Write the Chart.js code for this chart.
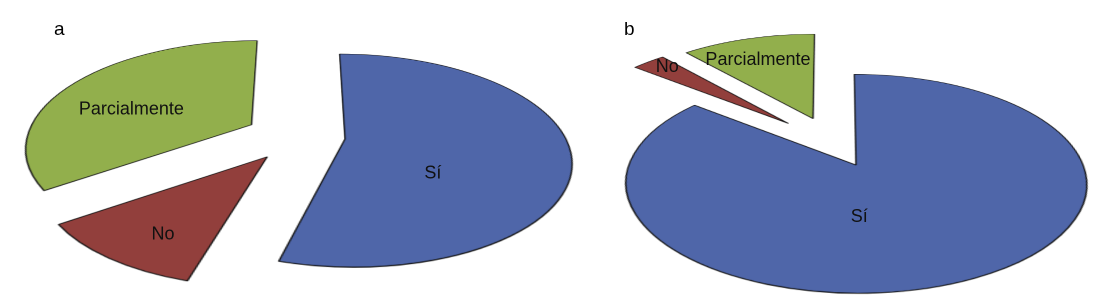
<!DOCTYPE html>
<html>
<head>
<meta charset="utf-8">
<script src="https://cdn.jsdelivr.net/npm/chart.js@4/dist/chart.umd.min.js"></script>
<style>
  html, body { margin: 0; padding: 0; background: #fff; }
  #wrap { position: relative; width: 1120px; height: 299px; overflow: hidden; }
  .panel { position: absolute; top: 0; height: 299px; }
  #panel-a { left: 0; width: 600px; }
  #panel-b { left: 560px; width: 560px; }
  .tag { position: absolute; top: 19px; font: 19px "Liberation Sans", Arial, sans-serif; line-height: 1; color: #000; }
</style>
</head>
<body>
<div id="wrap">
  <div class="panel" id="panel-a"><canvas id="chart-a"></canvas></div>
  <div class="panel" id="panel-b"><canvas id="chart-b"></canvas></div>
  <div class="tag" style="left:54px">a</div>
  <div class="tag" style="left:624px">b</div>
</div>
<script>
const categories = ['Sí', 'No', 'Parcialmente'];
const valuesA = [25, 5, 16];
const valuesB = [30, 1, 4];
const colors = ['#4f66a9', '#923f3c', '#92af4c'];
// how far each slice is pulled out, as a fraction of the radius
const explodeA = [0.21, 0.238, 0.247];
const explodeB = [0.23, 0.285, 0.264];
// where the label sits: turn from the slice middle (deg), distance from the tip (radius fraction)
const labelTurnA = [33, -4, -12];
const labelDistA = [0.48, 0.76, 0.59];
const labelTurnB = [24.5, 1.5, -2.7];
const labelDistB = [0.45, 0.88, 0.72];

const SRC_R = 110; // radius of the flat pie before it is tilted

// tilted disc seen in perspective: centre, half axes, depth factor,
// and how much of the explode distance goes into the perspective (x and y)
const viewA = { cx: 298.8, cy: 136.1, A: 220.7, B: 102, g: 0.202, liftX: 0.7, liftY: 0.2 };
const viewB = { cx: 272.9, cy: 143, A: 223.1, B: 102.6, g: 0.168, liftX: 0.5, liftY: 0.5 };

const sliceFrame = (el, view) => {
    const shift = (el.options.offset || 0) / 4;
    const mid = (el.startAngle + el.endAngle) / 2;
    const du = Math.cos(mid) * shift / SRC_R;
    const dv = Math.sin(mid) * shift / SRC_R;
    const dd = 1 - view.g * dv;
    const pu = du * view.liftX, pv = dv * view.liftY;
    return {
        mid,
        sx: el.x + Math.cos(mid) * shift, // slice tip in the flat pie
        sy: el.y + Math.sin(mid) * shift,
        vx: view.cx + view.A * du / dd,   // slice tip on screen
        vy: view.cy + view.B * dv / dd,
        pu, pv,
        d0: 1 - view.g * pv
    };
};

// point of a slice, given relative to its tip in radius units, to screen
const mapLocal = (view, f, qu, qv) => {
    const w = f.pv + qv;
    const d = 1 - view.g * w;
    return [f.vx + view.A * ((f.pu + qu) / d - f.pu / f.d0),
            f.vy + view.B * (w / d - f.pv / f.d0)];
};

const outline = (el, view, f, e) => {
    const half = (el.endAngle - el.startAngle) / 2;
    const back = Math.min(e / Math.max(Math.sin(half), 0.05), 0.1);
    const pts = [mapLocal(view, f, -Math.cos(f.mid) * back, -Math.sin(f.mid) * back)];
    const a0 = el.startAngle - e, a1 = el.endAngle + e;
    for (let k = 0; k <= 64; k++) {
        const a = a0 + (a1 - a0) * k / 64;
        pts.push(mapLocal(view, f, Math.cos(a) * (1 + e), Math.sin(a) * (1 + e)));
    }
    return pts;
};

const makeTilt = (view, labelTurn, labelDist) => ({
    id: 'tilt',
    beforeDatasetDraw(chart, args) {
        // Chart.js grows and narrows exploded slices, undo that for the drawing
        args.meta.data.forEach(el => {
            const grow = (el.options.offset || 0) / 4 * (1 - Math.sin(Math.min(Math.PI, el.circumference || 0)));
            const widen = grow / Math.PI / SRC_R / 2;
            el.$angles = [el.startAngle, el.endAngle];
            el.outerRadius = SRC_R - grow;
            el.startAngle -= widen;
            el.endAngle += widen;
        });
    },
    afterDatasetDraw(chart, args) {
        args.meta.data.forEach(el => {
            if (el.$angles) {
                [el.startAngle, el.endAngle] = el.$angles;
                delete el.$angles;
            }
        });
    },
    afterDatasetsDraw(chart) {
        const canvas = chart.canvas;
        const W = canvas.width, H = canvas.height;
        const r = chart.currentDevicePixelRatio;
        const flat = document.createElement('canvas');
        flat.width = W;
        flat.height = H;
        flat.getContext('2d').drawImage(canvas, 0, 0);

        const ctx = chart.ctx;
        ctx.save();
        ctx.setTransform(1, 0, 0, 1, 0, 0);
        ctx.clearRect(0, 0, W, H);
        ctx.restore();

        chart.getDatasetMeta(0).data.forEach(el => {
            const f = sliceFrame(el, view);
            ctx.save();
            ctx.beginPath();
            outline(el, view, f, 0.02).forEach(([x, y], k) => k ? ctx.lineTo(x, y) : ctx.moveTo(x, y));
            ctx.closePath();
            ctx.clip();
            ctx.setTransform(1, 0, 0, 1, 0, 0);
            for (let y = 0; y < H; y++) {
                const F = ((y + 0.5) / r - f.vy) / view.B + f.pv / f.d0;
                const w = F / (1 + view.g * F);
                const srcY = (f.sy + (w - f.pv) * SRC_R) * r;
                if (srcY < 0 || srcY > H) continue;
                const d = 1 - view.g * w;
                const s = view.A / (d * SRC_R);
                const K = f.vx + view.A * (f.pu / d - f.pu / f.d0);
                ctx.drawImage(flat, 0, srcY - 0.5, W, 1, (K - s * f.sx) * r, y, W * s, 1);
            }
            ctx.restore();
        });
    },
    afterDraw(chart) {
        const ctx = chart.ctx;
        const meta = chart.getDatasetMeta(0);
        ctx.save();
        ctx.font = '18px "Liberation Sans", Arial, sans-serif';
        ctx.fillStyle = '#111';
        ctx.textAlign = 'center';
        ctx.textBaseline = 'middle';
        meta.data.forEach((el, i) => {
            const f = sliceFrame(el, view);
            const a = f.mid + labelTurn[i] * Math.PI / 180;
            const [lx, ly] = mapLocal(view, f, Math.cos(a) * labelDist[i], Math.sin(a) * labelDist[i]);
            ctx.fillText(chart.data.labels[i], lx, ly);
        });
        ctx.restore();
    }
});

const makePie = (id, values, explode, view, labelTurn, labelDist) => new Chart(document.getElementById(id), {
    type: 'pie',
    data: {
        labels: categories,
        datasets: [{
            data: values,
            backgroundColor: colors,
            borderColor: '#111',
            borderWidth: 0.7,
            radius: SRC_R,
            offset: (c) => explode[c.dataIndex] * SRC_R * 4,
            hoverOffset: 0
        }]
    },
    options: {
        responsive: true,
        maintainAspectRatio: false,
        devicePixelRatio: 2,
        animation: false,
        events: [],
        layout: { padding: 0 },
        plugins: {
            legend: { display: false },
            tooltip: { enabled: false }
        }
    },
    plugins: [makeTilt(view, labelTurn, labelDist)]
});

makePie('chart-a', valuesA, explodeA, viewA, labelTurnA, labelDistA);
makePie('chart-b', valuesB, explodeB, viewB, labelTurnB, labelDistB);
</script>
</body>
</html>
